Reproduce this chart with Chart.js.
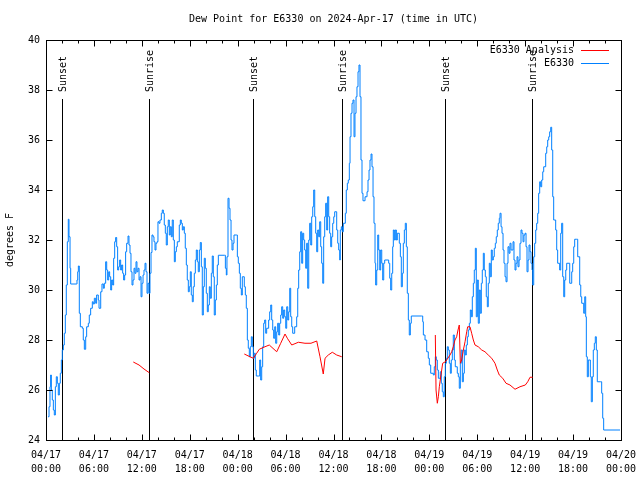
<!DOCTYPE html>
<html>
<head>
<meta charset="utf-8">
<title>Dew Point for E6330</title>
<script src="https://cdn.jsdelivr.net/npm/chart.js@4.4.1/dist/chart.umd.min.js"></script>
<style>
  body { margin: 0; background: #fff; }
  canvas { display: block; }
</style>
</head>
<body>
<canvas id="dewChart" width="640" height="480"></canvas>
<script>
// ===== Data (hours since 2024-04-17 00:00 UTC, degrees F) =====
const chartTitle = "Dew Point for E6330 on 2024-Apr-17 (time in UTC)";
const yTitle = "degrees F";
const seriesNames = ["E6330 Analysis", "E6330"];
const dayLabels = ["04/17", "04/18", "04/19", "04/20"];

// sunrise / sunset markers
const sunTimes = [2.04, 12.94, 25.96, 37.03, 50.0, 60.9];
const sunNames = ["Sunset", "Sunrise", "Sunset", "Sunrise", "Sunset", "Sunrise"];

// observed dew point [hour, value]
const observed = [
  [0.25,24.93],[0.38,25.33],[0.5,26.13],[0.58,26.6],[0.67,26.0],[0.79,25.6],[0.92,25.2],[1.04,25.0],
  [1.17,26.13],[1.29,26.53],[1.42,26.27],[1.54,25.8],[1.67,26.27],[1.79,26.67],[1.92,27.2],[2.04,27.6],
  [2.17,27.8],[2.29,28.27],[2.42,29.0],[2.54,30.2],[2.67,31.93],[2.79,32.83],[2.88,32.13],[3.01,30.87],
  [3.09,30.24],[3.79,30.24],[3.88,30.4],[3.97,30.73],[4.05,30.96],[4.17,29.07],[4.3,28.53],[4.55,28.47],
  [4.67,28.0],[4.8,27.63],[4.97,28.13],[5.09,28.53],[5.3,28.67],[5.42,29.0],[5.59,29.27],[5.8,29.53],
  [5.92,29.44],[6.05,29.67],[6.22,29.47],[6.34,29.8],[6.55,29.6],[6.64,29.27],[6.85,29.93],[7.01,30.24],
  [7.18,30.07],[7.3,30.27],[7.47,31.13],[7.6,30.8],[7.72,30.4],[7.85,30.73],[7.97,30.53],[8.1,30.0],
  [8.22,30.4],[8.35,30.2],[8.47,31.27],[8.6,31.93],[8.72,32.1],[8.85,31.73],[8.97,30.8],[9.1,30.93],
  [9.22,31.2],[9.35,30.8],[9.47,31.0],[9.6,30.67],[9.72,30.4],[9.85,30.6],[9.97,31.53],[10.1,31.87],
  [10.27,32.16],[10.39,31.8],[10.52,31.47],[10.64,30.73],[10.77,30.2],[10.89,30.4],[11.02,30.87],[11.14,30.67],
  [11.27,31.13],[11.39,30.73],[11.52,30.87],[11.65,30.4],[11.77,30.53],[11.9,29.73],[12.02,30.27],[12.15,30.6],
  [12.27,30.8],[12.4,31.07],[12.52,30.73],[12.65,29.87],[12.77,30.27],[12.9,29.87],[13.02,30.67],[13.15,31.5],
  [13.27,32.2],[13.4,32.13],[13.52,31.93],[13.65,31.6],[13.77,31.87],[13.9,31.93],[14.02,32.73],[14.15,32.67],
  [14.27,32.8],[14.44,33.07],[14.56,33.2],[14.69,33.07],[14.81,32.6],[14.94,32.27],[15.06,31.8],[15.19,32.53],
  [15.31,32.8],[15.44,32.2],[15.56,32.53],[15.69,32.13],[15.81,32.8],[15.94,32.0],[16.07,31.13],[16.19,31.53],
  [16.32,31.73],[16.44,31.93],[16.69,32.6],[16.82,32.8],[16.94,32.67],[17.07,32.4],[17.19,32.53],[17.32,32.27],
  [17.44,31.67],[17.57,31.0],[17.69,30.4],[17.82,29.93],[17.94,30.13],[18.07,30.73],[18.19,29.8],[18.32,29.53],
  [18.44,30.13],[18.57,30.67],[18.7,31.2],[18.82,31.6],[18.95,31.13],[19.07,30.73],[19.2,31.6],[19.32,31.9],
  [19.45,30.93],[19.57,29.0],[19.7,30.13],[19.82,31.27],[19.95,30.87],[20.07,29.87],[20.2,29.13],[20.32,29.4],
  [20.45,30.13],[20.57,29.67],[20.7,30.67],[20.82,31.36],[20.95,30.53],[21.07,29.0],[21.2,29.6],[21.33,30.2],
  [21.45,31.0],[21.58,31.39],[22.37,31.39],[22.46,30.87],[22.58,30.6],[22.66,31.33],[22.79,33.67],[22.92,33.27],
  [23.04,32.8],[23.17,32.0],[23.29,31.6],[23.42,31.87],[23.54,32.2],[23.83,32.2],[23.96,31.33],[24.08,31.07],
  [24.21,30.67],[24.33,30.07],[24.46,29.8],[24.58,30.53],[24.83,30.13],[24.96,29.8],[25.08,29.27],[25.21,28.0],
  [25.33,27.67],[25.46,27.33],[25.58,27.73],[25.71,28.13],[25.83,27.73],[25.96,27.27],[26.08,27.47],[26.21,26.8],
  [26.33,26.56],[26.63,26.56],[26.76,27.2],[26.88,26.4],[27.01,26.93],[27.13,27.73],[27.26,28.67],[27.38,28.8],
  [27.51,28.27],[27.63,28.47],[27.88,28.8],[28.01,29.13],[28.14,29.4],[28.26,28.8],[28.39,28.4],[28.51,28.07],
  [28.64,28.53],[28.76,27.87],[28.89,28.33],[29.01,28.67],[29.14,28.2],[29.26,28.67],[29.39,29.0],[29.51,29.33],
  [29.64,28.87],[29.76,29.2],[29.89,28.93],[30.02,28.47],[30.14,29.33],[30.27,28.8],[30.39,29.13],[30.52,30.07],
  [30.64,28.93],[30.77,28.53],[30.89,28.27],[31.14,28.53],[31.39,28.93],[31.52,30.07],[31.64,30.8],[31.77,31.53],
  [31.89,32.33],[32.02,31.07],[32.14,32.27],[32.27,32.0],[32.39,31.6],[32.52,30.87],[32.64,31.87],[32.77,30.07],
  [32.9,32.0],[33.02,32.67],[33.15,31.8],[33.27,32.93],[33.4,33.33],[33.52,34.0],[33.65,32.93],[33.77,32.27],
  [33.9,31.53],[34.02,32.4],[34.15,32.13],[34.27,32.73],[34.4,31.73],[34.52,31.07],[34.65,30.27],[34.77,32.13],
  [34.9,32.93],[35.02,33.47],[35.15,32.4],[35.27,33.73],[35.4,32.93],[35.52,32.27],[35.65,31.73],[35.77,32.13],
  [35.9,32.67],[36.03,32.93],[36.15,33.13],[36.4,32.4],[36.53,31.87],[36.65,31.6],[36.78,31.2],[36.85,32.4],
  [36.98,32.53],[37.1,32.33],[37.23,32.67],[37.48,33.07],[37.6,34.0],[37.73,34.27],[37.85,34.4],[37.98,35.07],
  [38.07,36.13],[38.19,37.07],[38.32,37.47],[38.44,37.6],[38.57,36.13],[38.69,37.07],[38.82,37.73],[38.94,38.13],
  [39.07,38.73],[39.19,39.0],[39.32,37.73],[39.44,35.2],[39.57,33.87],[39.69,33.57],[39.95,33.73],[40.2,33.93],
  [40.32,34.4],[40.45,34.8],[40.57,35.2],[40.7,35.44],[40.82,34.93],[40.95,33.73],[41.07,32.67],[41.2,31.07],
  [41.28,30.2],[41.41,30.8],[41.54,32.2],[41.66,31.6],[41.79,30.8],[41.91,31.6],[42.04,31.07],[42.16,30.4],
  [42.29,31.07],[42.41,31.2],[42.91,31.07],[43.04,30.47],[43.16,30.0],[43.29,30.67],[43.41,31.73],[43.49,32.4],
  [43.62,32.0],[43.74,32.4],[43.87,32.0],[43.99,32.27],[44.24,31.87],[44.37,31.33],[44.49,30.13],[44.62,30.67],
  [44.74,31.87],[44.87,32.4],[44.99,32.67],[45.12,31.73],[45.24,29.87],[45.37,28.8],[45.49,28.2],[45.62,28.67],
  [45.74,28.96],[47.04,28.96],[47.17,28.73],[47.25,28.2],[47.46,28.0],[47.67,27.53],[47.87,27.27],[48.0,27.0],
  [48.17,26.67],[48.5,26.6],[48.62,26.93],[48.75,27.33],[48.87,27.2],[49.0,26.8],[49.13,26.47],[49.37,26.73],
  [49.5,26.27],[49.62,25.93],[49.75,25.73],[49.87,26.53],[50.0,27.07],[50.13,27.27],[50.25,27.73],[50.38,27.6],
  [50.5,27.07],[50.63,26.67],[50.75,27.2],[50.88,27.6],[51.0,28.2],[51.13,27.2],[51.25,26.93],[51.5,26.67],
  [51.63,26.53],[51.75,26.07],[51.88,27.07],[52.0,27.6],[52.13,26.33],[52.26,26.67],[52.38,27.6],[52.51,27.4],
  [52.63,27.8],[52.76,28.13],[52.88,28.4],[53.01,28.67],[53.13,29.2],[53.26,28.93],[53.38,29.73],[53.51,30.27],
  [53.63,30.8],[53.76,31.67],[53.88,28.93],[54.01,30.4],[54.13,28.67],[54.26,30.0],[54.38,29.07],[54.51,30.27],
  [54.63,30.8],[54.76,31.47],[54.88,30.8],[55.01,30.53],[55.13,29.73],[55.26,29.33],[55.38,30.27],[55.51,31.07],
  [55.63,30.53],[55.76,31.6],[55.88,31.2],[56.01,31.33],[56.13,31.67],[56.26,31.87],[56.38,32.13],[56.51,32.4],
  [56.63,32.67],[56.76,32.87],[56.85,33.07],[56.98,32.53],[57.1,32.27],[57.23,31.6],[57.35,31.07],[57.48,30.53],
  [57.6,30.33],[57.73,31.07],[57.85,31.73],[57.98,31.47],[58.1,31.87],[58.23,31.6],[58.48,31.93],[58.6,31.2],
  [58.73,30.8],[58.85,31.07],[58.98,31.33],[59.1,30.93],[59.23,31.2],[59.35,31.87],[59.48,32.4],[59.6,32.27],
  [59.73,31.93],[59.85,32.2],[59.98,32.27],[60.11,31.73],[60.23,30.73],[60.36,31.2],[60.48,31.8],[60.61,31.53],
  [60.73,31.07],[60.86,30.8],[60.94,30.2],[61.07,31.33],[61.19,31.87],[61.32,32.4],[61.44,32.67],[61.57,33.07],
  [61.69,33.87],[61.82,34.33],[61.94,34.13],[62.07,34.4],[62.2,34.73],[62.32,34.93],[62.57,35.47],[62.7,35.73],
  [62.82,36.0],[62.95,36.13],[63.07,36.33],[63.2,36.51],[63.32,35.6],[63.45,33.73],[63.57,32.8],[63.82,32.4],
  [63.95,31.6],[64.07,31.07],[64.32,30.8],[64.45,32.27],[64.57,32.67],[64.7,30.53],[64.83,29.73],[64.95,30.4],
  [65.08,30.8],[65.2,31.07],[65.58,30.27],[65.83,30.73],[65.95,31.07],[66.08,31.73],[66.2,32.03],[66.45,32.03],
  [66.58,31.33],[66.83,30.2],[66.96,29.73],[67.08,29.47],[67.33,29.07],[67.46,29.73],[67.58,28.93],[67.66,27.33],
  [67.78,26.53],[67.91,27.2],[68.16,26.53],[68.28,25.53],[68.41,26.53],[68.53,27.6],[68.66,27.87],[68.78,28.13],
  [68.91,27.6],[69.03,26.33],[69.46,26.33],[69.58,25.87],[69.71,24.87],[69.83,24.4],[71.88,24.4]
];

// analysis dew point, three separate runs [hour, value]
const analysisRun1 = [[10.93,27.12],[11.65,27.0],[12.27,26.84],[12.94,26.69]];
const analysisRun2 = [
  [24.83,27.44],[25.54,27.33],[25.96,27.27],[26.38,27.47],[26.71,27.63],[27.42,27.73],[27.96,27.8],
  [28.89,27.53],[29.39,27.87],[29.93,28.24],[30.22,28.07],[30.77,27.8],[31.6,27.91],[32.43,27.87],
  [33.18,27.87],[33.9,27.96],[34.31,27.33],[34.72,26.64],[34.94,27.27],[35.35,27.4],[35.85,27.51],
  [36.4,27.4],[37.03,27.33]
];
const analysisRun3 = [
  [48.75,28.2],[48.84,26.0],[49.0,25.47],[49.13,25.73],[49.25,26.13],[49.37,26.4],[49.55,26.8],
  [49.67,27.07],[50.0,27.13],[50.17,27.2],[50.59,27.4],[50.8,27.53],[51.0,27.73],[51.21,28.0],
  [51.42,28.13],[51.59,28.4],[51.75,28.6],[51.88,27.07],[52.05,27.2],[52.26,27.6],[52.47,27.93],
  [52.68,28.33],[52.8,28.53],[53.09,28.53],[53.3,28.27],[53.51,28.0],[53.72,27.8],[54.13,27.73],
  [54.56,27.6],[54.97,27.53],[55.38,27.4],[55.81,27.27],[56.22,27.07],[56.51,26.8],[56.76,26.6],
  [57.19,26.47],[57.6,26.27],[58.1,26.2],[58.73,26.03],[59.35,26.13],[60.02,26.2],[60.32,26.33],
  [60.61,26.51],[60.94,26.51]
];

// ===== Build datasets =====
const toPoints = list => list.map(p => ({ x: p[0], y: p[1] }));
const gap = h => ({ x: h, y: null });
const analysisPoints = [
  ...toPoints(analysisRun1), gap(18),
  ...toPoints(analysisRun2), gap(43),
  ...toPoints(analysisRun3)
];

const FONT = "'DejaVu Sans Mono', monospace";
const SUN_LINE_TOP = 37.64;

// ===== Gnuplot-like frame, ticks, sun markers, title, legend =====
const decor = {
  id: "decor",
  beforeDatasetsDraw(chart) {
    const { ctx, chartArea: a, scales: { x, y } } = chart;
    ctx.save();
    ctx.strokeStyle = "#000";
    ctx.lineWidth = 1;
    ctx.fillStyle = "#000";
    ctx.font = "10px " + FONT;
    const top = y.getPixelForValue(SUN_LINE_TOP);
    sunTimes.forEach((t, i) => {
      const px = Math.round(x.getPixelForValue(t)) + 0.5;
      ctx.beginPath();
      ctx.moveTo(px, a.bottom);
      ctx.lineTo(px, top);
      ctx.stroke();
      ctx.save();
      ctx.translate(px + 1, top - 7);
      ctx.rotate(-Math.PI / 2);
      ctx.textAlign = "left";
      ctx.textBaseline = "middle";
      ctx.fillText(sunNames[i], 0, 0);
      ctx.restore();
    });
    ctx.restore();
  },
  afterDatasetsDraw(chart) {
    const { ctx, chartArea: a, scales: { x, y } } = chart;
    ctx.save();
    ctx.strokeStyle = "#000";
    ctx.lineWidth = 1;
    const seg = (x1, y1, x2, y2) => {
      ctx.beginPath();
      ctx.moveTo(x1, y1);
      ctx.lineTo(x2, y2);
      ctx.stroke();
    };
    const L = Math.round(a.left) + 0.5, R = Math.round(a.right) + 0.5;
    const T = Math.round(a.top) + 0.5, B = Math.round(a.bottom) + 0.5;
    ctx.strokeRect(L, T, R - L, B - T);

    for (let h = x.min; h <= x.max; h += 2) {
      const px = Math.round(x.getPixelForValue(h)) + 0.5;
      const len = h % 6 === 0 ? 6 : 3;
      seg(px, B, px, B - len);
      seg(px, T, px, T + len);
    }
    for (let v = y.min; v <= y.max; v += 2) {
      const py = Math.round(y.getPixelForValue(v)) + 0.5;
      seg(L, py, L + 6, py);
      seg(R, py, R - 6, py);
    }

    // title
    ctx.fillStyle = "#000";
    ctx.font = "10px " + FONT;
    ctx.textAlign = "center";
    ctx.textBaseline = "middle";
    ctx.fillText(chartTitle, (a.left + a.right) / 2, 19);

    // legend
    ctx.textAlign = "right";
    chart.data.datasets.forEach((ds, i) => {
      const ly = 50 + i * 13;
      ctx.fillStyle = "#000";
      ctx.fillText(ds.label, 574, ly);
      ctx.strokeStyle = ds.borderColor;
      seg(581, ly + 0.5, 609, ly + 0.5);
    });
    ctx.restore();
  }
};

// ===== Chart =====
const ctx = document.getElementById("dewChart").getContext("2d");
new Chart(ctx, {
  type: "line",
  data: {
    datasets: [
      {
        label: seriesNames[0],
        data: analysisPoints,
        borderColor: "#ff0000",
        borderWidth: 1,
        pointRadius: 0,
        spanGaps: false,
        tension: 0
      },
      {
        label: seriesNames[1],
        data: toPoints(observed),
        borderColor: "#0080ff",
        borderWidth: 1,
        pointRadius: 0,
        stepped: true
      }
    ]
  },
  options: {
    responsive: false,
    animation: false,
    devicePixelRatio: 1,
    layout: { padding: { top: 40, right: 19, left: 0, bottom: 0 } },
    plugins: {
      legend: { display: false },
      title: { display: false },
      tooltip: { enabled: false }
    },
    scales: {
      x: {
        type: "linear",
        min: 0,
        max: 72,
        grid: { display: false, drawTicks: false },
        border: { display: false },
        ticks: {
          stepSize: 6,
          maxRotation: 0,
          autoSkip: false,
          padding: 8,
          color: "#000",
          font: { family: FONT, size: 10, lineHeight: 1.4 },
          callback: v => {
            const day = dayLabels[Math.floor(v / 24)];
            const hr = String(v % 24).padStart(2, "0");
            return [day, hr + ":00"];
          }
        },
        afterFit: s => {
          s.height = 40;
          s.paddingLeft = 0;
          s.paddingRight = 0;
        }
      },
      y: {
        min: 24,
        max: 40,
        grid: { display: false, drawTicks: false },
        border: { display: false },
        ticks: {
          stepSize: 2,
          padding: 6,
          color: "#000",
          font: { family: FONT, size: 10 }
        },
        title: {
          display: true,
          text: yTitle,
          color: "#000",
          padding: { top: 4, bottom: 0 },
          font: { family: FONT, size: 10 }
        },
        afterFit: s => {
          s.width = 46;
          s.paddingTop = 0;
          s.paddingBottom = 0;
        }
      }
    }
  },
  plugins: [decor]
});
</script>
</body>
</html>
